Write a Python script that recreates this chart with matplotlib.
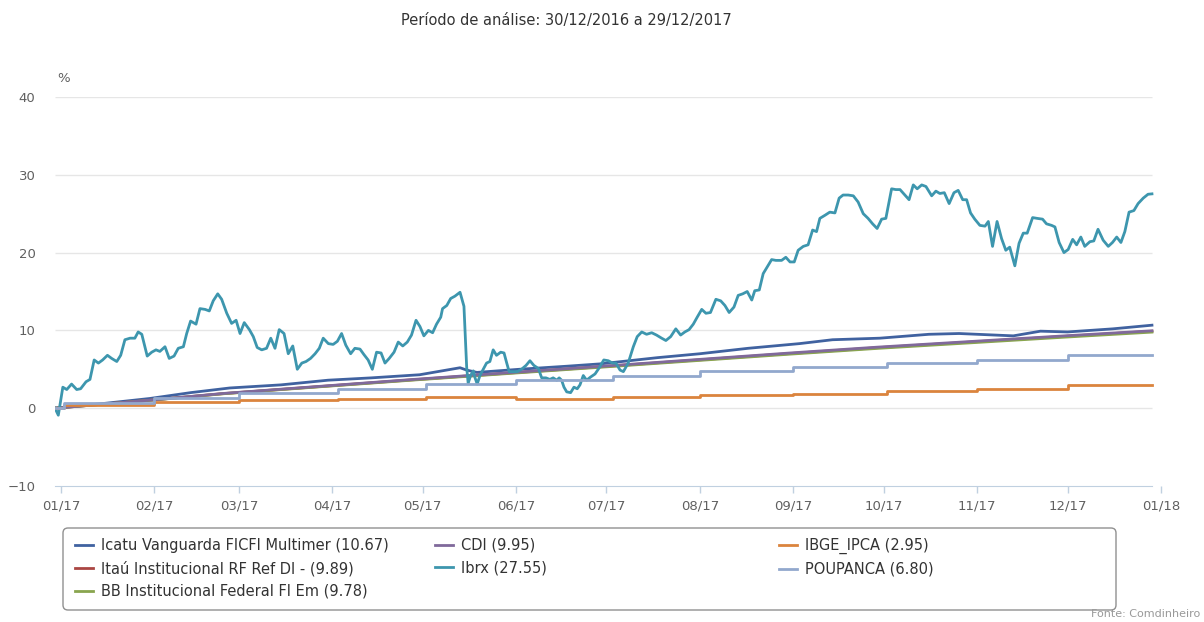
import matplotlib
matplotlib.use('Agg')
import matplotlib.pyplot as plt
import matplotlib.dates as mdates
from matplotlib.patches import FancyBboxPatch
import pandas as pd

# inicio do periodo
inicio = pd.Timestamp('2016-12-30')
fim = pd.Timestamp('2017-12-29')

# Ibrx: dias desde o inicio e retorno acumulado (%)
ibrx_dias = [0.0, 1.1, 2.6, 3.9, 5.5, 7.2, 8.5, 10.3, 11.6, 13.0, 14.4, 15.8, 17.4, 18.8,
             20.5, 21.8, 23.2, 24.9, 26.5, 27.6, 28.8, 30.6, 32.1, 33.5, 34.8, 36.5, 37.9,
             39.5, 40.9, 42.6, 43.7, 45.0, 46.8, 48.1, 49.8, 51.2, 52.5, 54.0, 55.3, 57.0,
             58.6, 60.1, 61.4, 62.8, 64.5, 65.8, 67.1, 68.6, 70.2, 71.6, 73.0, 74.4, 76.0,
             77.4, 78.9, 80.4, 81.9, 83.3, 84.8, 86.3, 87.7, 89.0, 90.7, 92.3, 93.7, 95.1,
             96.5, 98.1, 99.5, 101.2, 102.5, 103.9, 105.3, 106.7, 108.2, 109.5, 110.9,
             112.5, 113.9, 115.4, 116.9, 118.3, 119.8, 121.1, 122.4, 123.9, 125.3, 126.6,
             128.0, 128.6, 130.0, 131.3, 132.7, 134.4, 135.7, 136.6, 137.1, 137.9, 138.8,
             139.3, 140.1, 141.0, 142.1, 143.2, 144.3, 145.4, 146.5, 147.9, 149.0, 149.9,
             150.7, 152.1, 153.4, 154.8, 156.3, 157.6, 158.9, 160.4, 161.5, 162.9, 164.2,
             165.3, 166.5, 167.3, 168.1, 168.9, 169.8, 171.1, 172.2, 173.3, 174.2, 175.3,
             176.4, 177.7, 179.2, 180.6, 182.1, 183.6, 185.0, 186.1, 187.5, 188.6, 190.2,
             191.9, 193.2, 194.7, 196.3, 198.0, 199.6, 201.3, 202.7, 204.3, 206.0, 207.6,
             209.0, 210.4, 211.8, 213.1, 214.6, 216.0, 217.5, 219.3, 220.9, 222.3, 223.7,
             225.3, 226.7, 228.2, 229.7, 231.2, 232.2, 233.7, 235.0, 236.1, 237.8, 239.2,
             241.1, 242.5, 243.9, 245.3, 246.6, 248.3, 249.9, 251.4, 252.7, 253.8, 255.5,
             257.1, 258.8, 260.2, 261.5, 263.2, 264.9, 266.5, 268.2, 269.8, 271.3, 272.8,
             274.3, 275.7, 277.6, 279.0, 280.4, 282.0, 283.4, 284.8, 286.1, 287.6, 289.0,
             290.9, 292.3, 293.6, 295.1, 296.7, 298.3, 299.7, 301.2, 302.5, 303.8, 305.2,
             306.9, 308.6, 309.7, 311.1, 312.6, 314.1, 315.5, 316.8, 318.5, 319.9, 321.3,
             322.6, 324.4, 325.9, 327.7, 329.0, 330.7, 331.8, 333.2, 334.8, 336.2, 337.7,
             339.0, 340.4, 341.7, 343.4, 344.7, 346.1, 347.8, 349.5, 350.9, 352.3, 353.7,
             355.0, 356.4, 358.0, 359.4, 361.1, 362.7, 364.0]
ibrx_vals = [0.0, -0.9, 2.7, 2.4, 3.1, 2.4, 2.5, 3.4, 3.7, 6.2, 5.8, 6.2, 6.8, 6.4,
             6.0, 6.8, 8.8, 9.0, 9.0, 9.8, 9.5, 6.7, 7.2, 7.5, 7.3, 7.9, 6.4,
             6.7, 7.7, 7.9, 9.6, 11.2, 10.8, 12.8, 12.7, 12.5, 13.8, 14.7, 14.0, 12.2,
             10.9, 11.3, 9.6, 11.0, 10.1, 9.2, 7.8, 7.5, 7.7, 9.0, 7.7, 10.1, 9.6,
             7.0, 8.0, 5.0, 5.8, 6.0, 6.4, 7.0, 7.7, 9.0, 8.3, 8.2, 8.6, 9.6,
             8.1, 7.0, 7.7, 7.6, 6.9, 6.2, 5.0, 7.2, 7.1, 5.8, 6.4,
             7.2, 8.5, 8.0, 8.5, 9.4, 11.3, 10.5, 9.3, 10.0, 9.7, 10.8,
             11.7, 12.8, 13.2, 14.1, 14.4, 14.9, 13.1, 5.3, 3.2, 4.2, 4.8,
             4.0, 3.1, 4.2, 5.0, 5.8, 6.0, 7.5, 6.8, 7.2, 7.1, 5.8,
             4.7, 4.7, 4.7, 5.0, 5.5, 6.1, 5.5, 5.1, 3.9, 3.9, 3.7,
             3.9, 3.6, 3.9, 3.6, 2.7, 2.1, 2.0, 2.7, 2.5, 3.0, 4.2,
             3.6, 4.0, 4.4, 5.2, 6.2, 6.1, 5.8, 5.8, 4.9, 4.7, 5.8,
             7.9, 9.2, 9.8, 9.5, 9.7, 9.4, 9.0, 8.7, 9.2, 10.2, 9.4,
             9.8, 10.1, 10.8, 11.7, 12.7, 12.2, 12.3, 14.0, 13.8, 13.2, 12.3,
             13.0, 14.5, 14.7, 15.0, 13.9, 15.1, 15.2, 17.3, 18.0, 19.1, 19.0,
             19.0, 19.4, 18.8, 18.8, 20.3, 20.8, 21.0, 22.9, 22.7, 24.4, 24.8,
             25.2, 25.1, 27.0, 27.4, 27.4, 27.3, 26.5, 25.0, 24.4, 23.7, 23.1,
             24.3, 24.4, 28.2, 28.1, 28.1, 27.4, 26.8, 28.7, 28.2, 28.7, 28.5,
             27.3, 27.9, 27.6, 27.7, 26.3, 27.7, 28.0, 26.8, 26.8, 25.1, 24.3,
             23.5, 23.4, 24.0, 20.8, 24.0, 21.8, 20.3, 20.7, 18.3, 21.2, 22.5,
             22.5, 24.5, 24.4, 24.3, 23.7, 23.5, 23.3, 21.3, 20.0, 20.4, 21.7,
             21.0, 22.0, 20.8, 21.4, 21.5, 23.0, 21.6, 20.8, 21.3, 22.0, 21.3,
             22.7, 25.2, 25.4, 26.3, 27.0, 27.5, 27.55]

# Icatu Vanguarda
icatu_dias = [0, 16, 31.5, 45, 58, 75, 90.6, 105, 121, 134.4, 136.6, 140, 154, 170, 181,
              200, 214, 230, 247, 258, 273.7, 290, 300, 318, 327, 336, 351, 364]
icatu_vals = [0.0, 0.6, 1.25, 2.0, 2.6, 3.0, 3.6, 3.9, 4.3, 5.2, 4.9, 4.6, 5.0, 5.4, 5.7,
              6.5, 7.0, 7.7, 8.3, 8.8, 9.0, 9.5, 9.6, 9.3, 9.9, 9.8, 10.2, 10.67]

# fim de cada mes
fim_mes = ['2016-12-30', '2017-01-31', '2017-02-24', '2017-03-31', '2017-04-28',
           '2017-05-31', '2017-06-30', '2017-07-31', '2017-08-31', '2017-09-29',
           '2017-10-31', '2017-11-30', '2017-12-29']
cdi_vals = [0.0, 1.05, 1.9, 2.9, 3.7, 4.6, 5.4, 6.25, 7.1, 7.85, 8.6, 9.3, 9.95]
itau_vals = [0.0, 1.04, 1.88, 2.87, 3.66, 4.55, 5.35, 6.19, 7.03, 7.78, 8.53, 9.23, 9.89]
bb_vals = [0.0, 1.03, 1.86, 2.84, 3.62, 4.5, 5.29, 6.12, 6.95, 7.69, 8.43, 9.13, 9.78]

# indices com degrau mensal
degraus = ['2016-12-30', '2017-01-02', '2017-02-01', '2017-03-01', '2017-04-03',
           '2017-05-02', '2017-06-01', '2017-07-03', '2017-08-01', '2017-09-01',
           '2017-10-02', '2017-11-01', '2017-12-01', '2017-12-29']
ipca_vals = [0.0, 0.38, 0.75, 1.0, 1.15, 1.45, 1.22, 1.48, 1.68, 1.85, 2.25, 2.5, 2.95, 2.95]
poup_vals = [0.0, 0.65, 1.28, 1.9, 2.45, 3.05, 3.6, 4.15, 4.72, 5.25, 5.75, 6.25, 6.8, 6.8]

nomes = ['Icatu Vanguarda FICFI Multimer (10.67)', 'Itaú Institucional RF Ref DI - (9.89)',
         'BB Institucional Federal FI Em (9.78)', 'CDI (9.95)', 'Ibrx (27.55)',
         'IBGE_IPCA (2.95)', 'POUPANCA (6.80)']
cores = ['#4062a0', '#AA4643', '#89A54E', '#80699B', '#3D96AE', '#DB843D', '#92A8CD']

y_ticks = [-10, 0, 10, 20, 30, 40]
x_ticks = ['2017-01-01', '2017-02-01', '2017-03-01', '2017-04-01', '2017-05-01', '2017-06-01',
           '2017-07-01', '2017-08-01', '2017-09-01', '2017-10-01', '2017-11-01', '2017-12-01',
           '2018-01-01']

W, H = 1204, 622
fig = plt.figure(figsize=(W / 100, H / 100), dpi=100)
ax = fig.add_axes([55 / W, 1 - 486 / H, (1161 - 55) / W, (486 - 97) / H])

def datas(dias):
    return inicio + pd.to_timedelta(dias, unit='D')

linhas = []
lw = 2.0
linhas.append(ax.plot(datas(icatu_dias), icatu_vals, color=cores[0], lw=lw, zorder=3)[0])
linhas.append(ax.plot(pd.to_datetime(fim_mes), itau_vals, color=cores[1], lw=lw, zorder=4)[0])
linhas.append(ax.plot(pd.to_datetime(fim_mes), bb_vals, color=cores[2], lw=lw, zorder=5)[0])
linhas.append(ax.plot(pd.to_datetime(fim_mes), cdi_vals, color=cores[3], lw=lw, zorder=6)[0])
linhas.append(ax.plot(datas(ibrx_dias), ibrx_vals, color=cores[4], lw=lw, zorder=7)[0])
linhas.append(ax.step(pd.to_datetime(degraus), ipca_vals, where='post', color=cores[5], lw=lw, zorder=8)[0])
linhas.append(ax.step(pd.to_datetime(degraus), poup_vals, where='post', color=cores[6], lw=lw, zorder=9)[0])

ax.set_xlim(inicio, pd.Timestamp('2018-01-01'))
ax.set_ylim(-10, 40)

# grade horizontal so ate o fim dos dados
ax.hlines([v for v in y_ticks if v > -10], inicio, fim, colors='#e6e6e6', lw=1, zorder=1)

ax.set_yticks(y_ticks)
ax.set_xticks(pd.to_datetime(x_ticks))
ax.xaxis.set_major_formatter(mdates.DateFormatter('%m/%y'))
ax.tick_params(axis='y', length=0, pad=14, labelsize=9.5, labelcolor='#606060')
ax.tick_params(axis='x', length=5, width=1, color='#C0D0E0', pad=5, labelsize=9.5,
               labelcolor='#606060')
for s in ['left', 'right', 'top']:
    ax.spines[s].set_visible(False)
ax.spines['bottom'].set_color('#C0D0E0')
ax.spines['bottom'].set_bounds(mdates.date2num(inicio), mdates.date2num(fim))

fig.text(566 / W, 1 - 20 / H, 'Período de análise: 30/12/2016 a 29/12/2017', ha='center',
         va='center', fontsize=10.5, color='#333333')
fig.text(57 / W, 1 - 78 / H, '%', ha='left', va='center', fontsize=9.5, color='#606060')
fig.text(1200 / W, 1 - 614 / H, 'Fonte: Comdinheiro', ha='right', va='center', fontsize=8,
         color='#999999')

# legenda em tres colunas
colunas = [[0, 1, 2], [3, 4], [5, 6]]
col_x = [75, 435, 779]
for idx, x in zip(colunas, col_x):
    fig.legend([linhas[i] for i in idx], [nomes[i] for i in idx], loc='upper left',
               bbox_to_anchor=(x / W, 1 - 538 / H), frameon=False, fontsize=10.5,
               labelcolor='#333333', handlelength=1.25, handletextpad=0.55,
               labelspacing=0.52, borderpad=0, borderaxespad=0)

caixa = FancyBboxPatch((0.63, (H - 610) / 100), (1116 - 63) / 100, (610 - 528) / 100,
                       boxstyle='round,pad=0,rounding_size=0.05', transform=fig.dpi_scale_trans,
                       fc='none', ec='#909090', lw=1)
fig.patches.append(caixa)

fig.savefig('out.png', dpi=100)
